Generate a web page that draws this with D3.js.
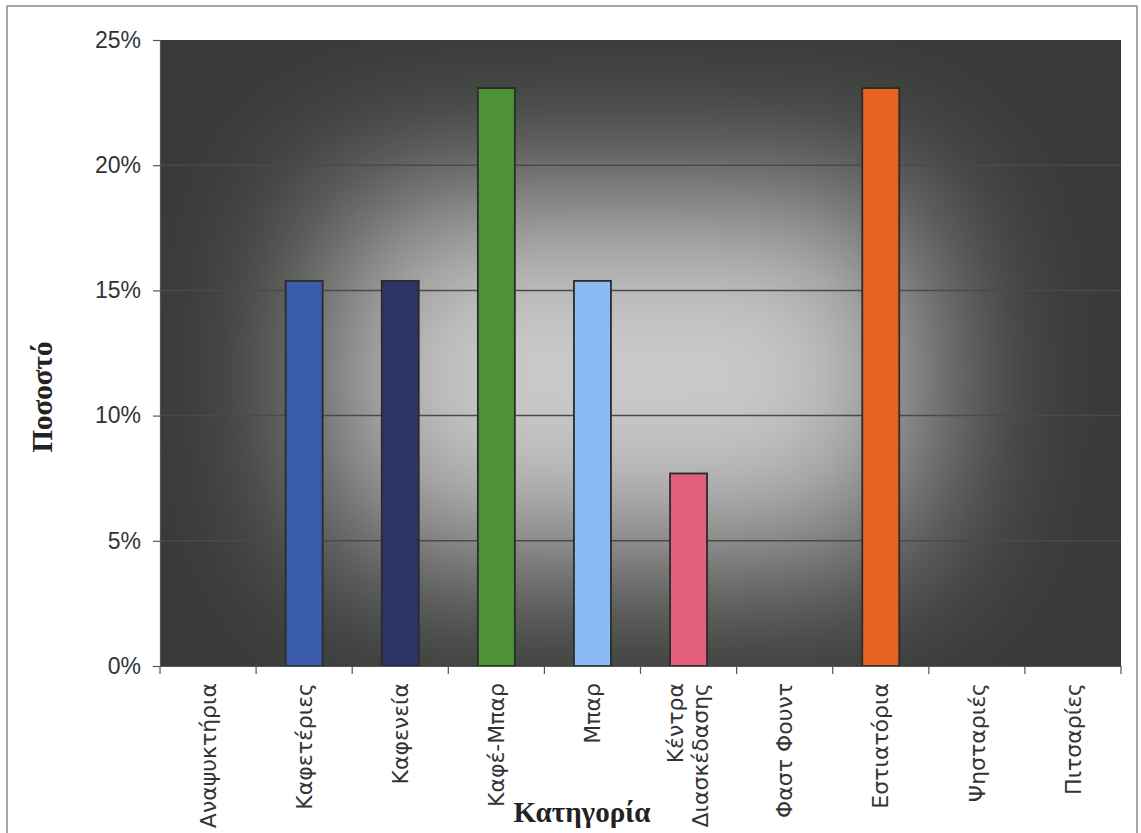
<!DOCTYPE html>
<html><head><meta charset="utf-8">
<script src="https://cdn.jsdelivr.net/npm/d3@7"></script>
<style>body{margin:0;background:#fff;}svg{display:block;}</style>
</head><body>
<svg id="c" width="1141" height="833"></svg>
<script>
const categories = ["Αναψυκτήρια","Καφετέριες","Καφενεία","Καφέ-Μπαρ","Μπαρ","Κέντρα Διασκέδασης","Φαστ Φουντ","Εστιατόρια","Ψησταριές","Πιτσαρίες"];
const values = [0, 15.38, 15.38, 23.08, 15.38, 7.69, 0, 23.08, 0, 0];
const barColors = ["#3b5fb5","#3a5aaa","#2d3566","#4e9236","#8cbaf4","#e2607c","#e8641e","#e4641f","#e8641e","#e8641e"];
const yTicks = [0, 5, 10, 15, 20, 25];
const yTitle = "Ποσοστό";
const xTitle = "Κατηγορία";

const svg = d3.select("#c");
const m = {l:160, r:1121, t:40, b:666};

svg.append("rect").attr("x",7).attr("y",6).attr("width",1130).attr("height",840)
  .attr("fill","#fff").attr("stroke","#8a8a8a").attr("stroke-width",1.5);

const defs = svg.append("defs");
defs.append("clipPath").attr("id","plotclip").append("rect")
  .attr("x",m.l).attr("y",m.t).attr("width",m.r-m.l).attr("height",m.b-m.t);
defs.append("filter").attr("id","glow").attr("x","-50%").attr("y","-50%").attr("width","200%").attr("height","200%")
  .append("feGaussianBlur").attr("stdDeviation",85);

const x = d3.scaleBand().domain(categories).range([m.l, m.r]).paddingInner(0).paddingOuter(0);
const y = d3.scaleLinear().domain([0,25]).range([m.b, m.t]);

const bg = svg.append("g").attr("clip-path","url(#plotclip)");
bg.append("rect").attr("x",m.l).attr("y",m.t).attr("width",m.r-m.l).attr("height",m.b-m.t)
  .attr("fill","#383a37");
bg.append("rect").attr("x",330).attr("y",195).attr("width",590).attr("height",360)
  .attr("rx",60).attr("fill","#cbcbcb").attr("filter","url(#glow)");

svg.append("g").selectAll("line").data(yTicks.filter(d=>d>0 && d<25)).join("line")
  .attr("x1",m.l).attr("x2",m.r).attr("y1",d=>y(d)).attr("y2",d=>y(d))
  .attr("stroke","#4a4b49").attr("stroke-width",1.5);

const bw = 37;
svg.append("g").selectAll("rect").data(categories.map((c,i)=>({c, v:values[i], col:barColors[i]})).filter(d=>d.v>0))
  .join("rect")
  .attr("x",d=>x(d.c)+x.bandwidth()/2-bw/2)
  .attr("y",d=>y(d.v)).attr("width",bw).attr("height",d=>y(0)-y(d.v))
  .attr("fill",d=>d.col).attr("stroke","#2a2c2a").attr("stroke-width",1.8);

const ya = svg.append("g").attr("transform",`translate(${m.l},0)`)
  .call(d3.axisLeft(y).tickValues(yTicks).tickFormat(d=>d+"%").tickSize(7).tickPadding(12));
ya.select(".domain").attr("stroke","#555").attr("stroke-width",1.2);
ya.selectAll(".tick line").attr("stroke","#555").attr("stroke-width",1.2);
ya.selectAll(".tick text").attr("font-family","Liberation Sans, Arial, sans-serif")
  .attr("font-size",23).attr("fill","#333");

const xa = svg.append("g").attr("transform",`translate(0,${m.b})`)
  .call(d3.axisBottom(x).tickSize(0).tickFormat(""));
xa.select(".domain").attr("stroke","#555").attr("stroke-width",1.2);
const bounds = d3.range(categories.length+1).map(i=>m.l + i*x.step());
svg.append("g").selectAll("line").data(bounds).join("line")
  .attr("x1",d=>d).attr("x2",d=>d).attr("y1",m.b).attr("y2",m.b+8)
  .attr("stroke","#555").attr("stroke-width",1.2);

const lab = svg.append("g").selectAll("text").data(categories).join("text")
  .attr("transform",d=>`translate(${x(d)+x.bandwidth()/2},${m.b+17}) rotate(-90)`)
  .attr("text-anchor","end")
  .attr("font-family","DejaVu Sans, Verdana, sans-serif").attr("font-size",22).attr("fill","#333");
lab.each(function(d){
  const t = d3.select(this);
  const parts = d === "Κέντρα Διασκέδασης" ? ["Κέντρα","Διασκέδασης"] : [d];
  if(parts.length===1){ t.append("tspan").attr("x",0).attr("dy","0.35em").text(parts[0]); }
  else {
    t.append("tspan").attr("x",0).attr("dy","-0.25em").text(parts[0]);
    t.append("tspan").attr("x",0).attr("dy","1.15em").text(parts[1]);
  }
});

svg.append("text").attr("transform","translate(52,397) rotate(-90)").attr("text-anchor","middle")
  .attr("font-family","Liberation Serif, Times New Roman, serif").attr("font-weight","bold")
  .attr("font-size",29).attr("fill","#222").text(yTitle);
svg.append("text").attr("x",582).attr("y",822).attr("text-anchor","middle")
  .attr("font-family","Liberation Serif, Times New Roman, serif").attr("font-weight","bold")
  .attr("font-size",29).attr("fill","#222").text(xTitle);
</script>
</body></html>
